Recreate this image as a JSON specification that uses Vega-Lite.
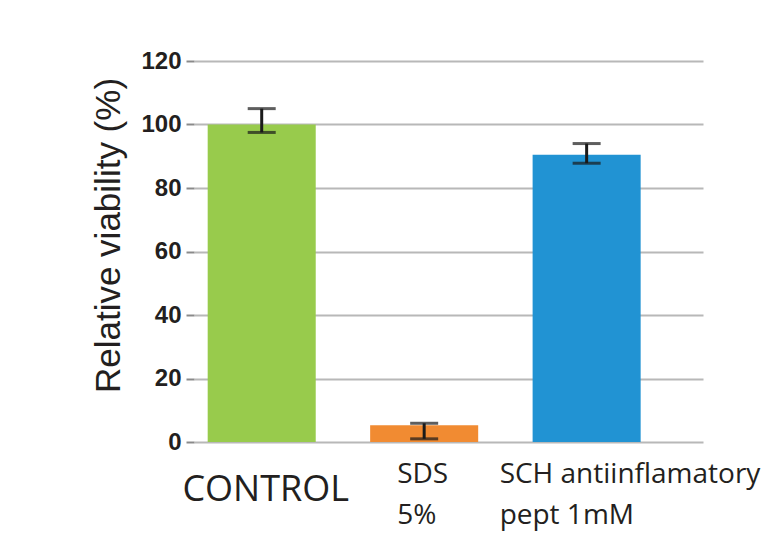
{
  "$schema": "https://vega.github.io/schema/vega-lite/v6.json",
  "width": 509,
  "height": 381,
  "autosize": {"type": "none"},
  "padding": {"left": 194, "top": 61, "right": 66, "bottom": 97},
  "background": "white",
  "config": {"view": {"stroke": null}},
  "data": {
    "values": [
      {"group": "CONTROL", "value": 100, "lo": 97.5, "hi": 105},
      {"group": "SDS 5%", "value": 5.3, "lo": 1, "hi": 5.9},
      {"group": "SCH antiinflamatory pept 1mM", "value": 90.5, "lo": 87.8, "hi": 94}
    ]
  },
  "encoding": {
    "x": {
      "field": "group",
      "type": "nominal",
      "sort": null,
      "title": null,
      "scale": {"paddingInner": 0.335, "paddingOuter": 0.234, "align": 0.18},
      "axis": {
        "domain": false,
        "ticks": false,
        "labelAngle": 0,
        "labelFont": "Open Sans",
        "labelColor": "#231f20",
        "labelLimit": 600,
        "labelOverlap": false,
        "labelBaseline": "top",
        "labelLineHeight": 41,
        "labelExpr": "datum.value == 'SDS 5%' ? ['SDS', '5%'] : datum.value == 'CONTROL' ? 'CONTROL' : ['SCH antiinflamatory', 'pept 1mM']",
        "labelFontSize": {"condition": {"test": "datum.value == 'CONTROL'", "value": 36}, "value": 28},
        "labelAlign": {"condition": {"test": "datum.value == 'CONTROL'", "value": "center"}, "value": "left"},
        "labelPadding": {"condition": {"test": "datum.value == 'CONTROL'", "value": 30}, "value": 18},
        "labelOffset": {"condition": [{"test": "datum.value == 'CONTROL'", "value": 4}, {"test": "datum.value == 'SDS 5%'", "value": -27}], "value": -87}
      }
    }
  },
  "layer": [
    {
      "mark": {"type": "bar"},
      "encoding": {
        "y": {
          "field": "value",
          "type": "quantitative",
          "title": "Relative viability (%)",
          "scale": {"domain": [0, 120]},
          "axis": {
            "values": [0, 20, 40, 60, 80, 100, 120],
            "domain": false,
            "grid": true,
            "gridColor": "#b8b8b8",
            "gridWidth": 2,
            "tickColor": "#8a8a8a",
            "tickSize": 8,
            "tickWidth": 2,
            "labelFont": "Liberation Sans",
            "labelFontSize": 24,
            "labelFontWeight": "bold",
            "labelColor": "#231f20",
            "labelPadding": 5,
            "titleFont": "Liberation Sans",
            "titleFontSize": 35,
            "titleFontWeight": "normal",
            "titleColor": "#231f20",
            "titleX": -75,
            "titleY": 174,
            "titleAngle": -90,
            "titleAlign": "center",
            "titleBaseline": "alphabetic"
          }
        },
        "color": {
          "field": "group",
          "type": "nominal",
          "legend": null,
          "scale": {"domain": ["CONTROL", "SDS 5%", "SCH antiinflamatory pept 1mM"], "range": ["#98cb4c", "#f18b32", "#2193d3"]}
        }
      }
    },
    {
      "mark": {"type": "rule", "color": "#1a1a1a", "strokeWidth": 3},
      "encoding": {
        "y": {"field": "lo", "type": "quantitative", "title": "Relative viability (%)"},
        "y2": {"field": "hi"}
      }
    },
    {
      "mark": {"type": "tick", "color": "#1a1a1a", "thickness": 3, "size": 28},
      "encoding": {
        "y": {"field": "lo", "type": "quantitative", "title": "Relative viability (%)"}
      }
    },
    {
      "mark": {"type": "tick", "color": "#1a1a1a", "thickness": 3, "size": 28},
      "encoding": {
        "y": {"field": "hi", "type": "quantitative", "title": "Relative viability (%)"}
      }
    }
  ]
}
